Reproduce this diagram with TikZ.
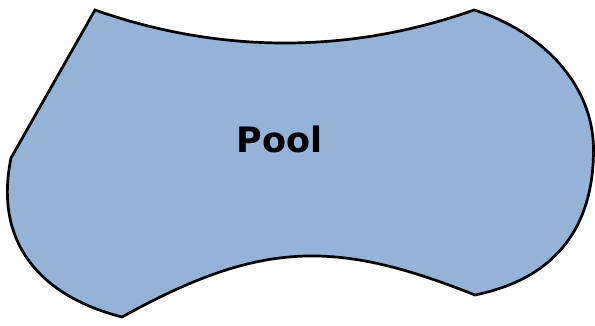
\documentclass[tikz,border=0pt]{standalone}
\usepackage{fontspec}
\newfontfamily\poolfont{DejaVu Sans}
\definecolor{poolblue}{HTML}{95B3D7}
\begin{document}
\begin{tikzpicture}[x=1pt,y=-1pt,
  poolshape/.style={draw=black,fill=poolblue,line width=2.7pt,line join=miter},
  poollabel/.style={font=\poolfont\bfseries\fontsize{35}{40}\selectfont,anchor=base,inner sep=0pt}]
\useasboundingbox (0,0) rectangle (595,325);
\coordinate (tl) at (95,10);
\coordinate (lc) at (11,158);
\coordinate (bl) at (122,317);
\coordinate (br) at (475,295);
\coordinate (rm) at (593.5,150);
\coordinate (tr) at (474,10);
\draw[poolshape] (tl) -- (lc)
  .. controls (-7,246) and (44,297) .. (bl)
  .. controls (261,240) and (335.5,239.5) .. (br)
  .. controls (553,279) and (593.5,230) .. (rm)
  .. controls (593.5,80) and (536,29) .. (tr)
  .. controls (350,54) and (220,54) .. (tl)
  -- cycle;
\node[poollabel] (pool) at (279.5,152) {Pool};
\end{tikzpicture}
\end{document}
